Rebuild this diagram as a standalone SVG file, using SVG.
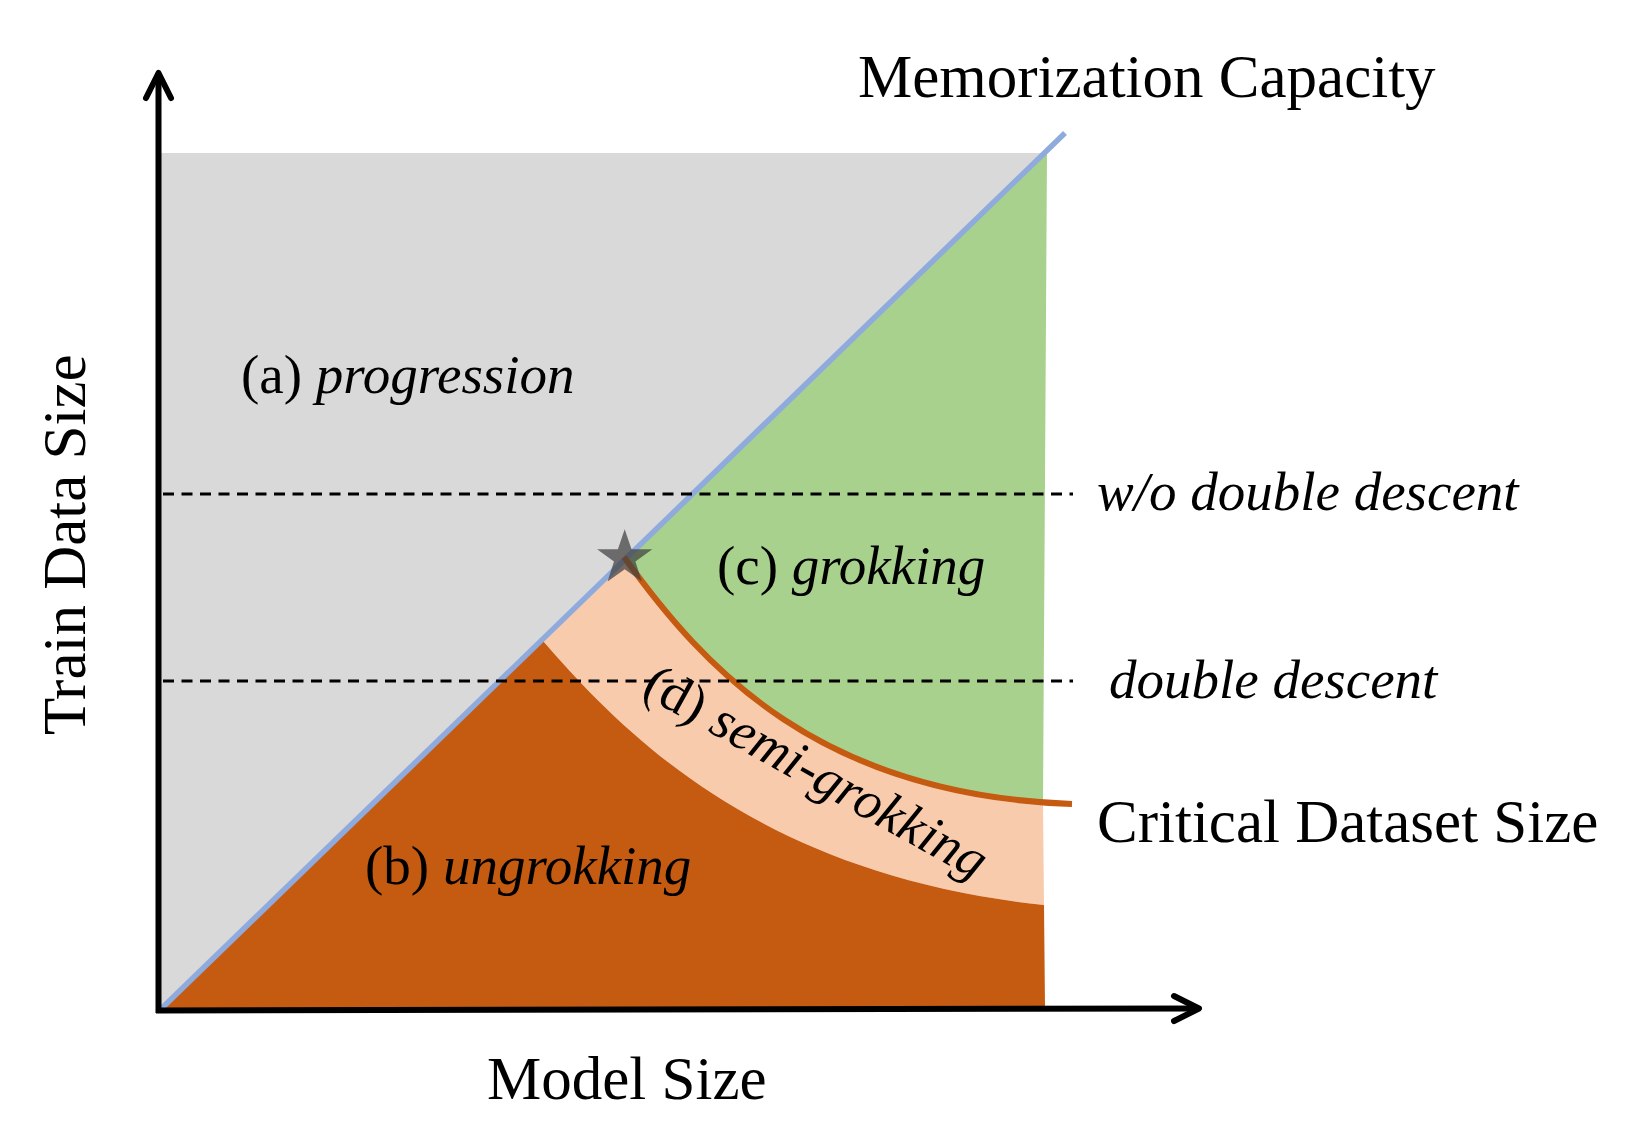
<svg xmlns="http://www.w3.org/2000/svg" width="1637" height="1142" viewBox="0 0 1637 1142">
  <defs>
    <style>
      .lbl { font-family: "Liberation Serif", "Times New Roman", serif; fill: #000; }
      .big { font-size: 61px; }
      .mid { font-size: 55px; }
      .it { font-style: italic; }
      .dash { stroke: #000; stroke-width: 3; stroke-dasharray: 11 7.5; fill: none; }
      .axis { stroke: #000; stroke-width: 6; fill: none; }
    </style>
    <marker id="arrow" markerUnits="userSpaceOnUse" markerWidth="60" markerHeight="60" refX="0" refY="0" orient="auto" overflow="visible">
      <path d="M -25 -12.5 L 0 0 L -25 12.5" fill="none" stroke="#000" stroke-width="6" stroke-linecap="round" stroke-linejoin="round"/>
    </marker>
  </defs>

  <rect width="1637" height="1142" fill="#ffffff"/>

  <g id="region-a-progression">
    <polygon points="161,153 1047,153 162,1008 161,1008" fill="#d9d9d9"/>
  </g>
  <g id="region-c-grokking">
    <path d="M 624 557 L 1047 153 L 1043 802 C 960 800 830 795 800 770 C 760 740 705 670 624 557 Z" fill="#a9d18e"/>
  </g>
  <g id="region-d-semi-grokking">
    <path d="M 543 641 L 624 557 C 705 670 820 795 1072 804 L 1043 803 L 1044 905 C 760 875 625 735 543 641 Z" fill="#f8cbad"/>
  </g>
  <g id="region-b-ungrokking">
    <path d="M 162 1008 L 543 641 C 625 735 760 875 1044 905 L 1045 1008 Z" fill="#c55a11"/>
  </g>

  <g id="connectors">
    <line id="memorization-line" x1="162" y1="1008" x2="1065" y2="133" stroke="#8faadc" stroke-width="5.5"/>
    <path id="critical-curve" d="M 624 557 C 705 670 820 795 1072 804" fill="none" stroke="#c55a11" stroke-width="6"/>
    <line id="dash-wo-dd" class="dash" x1="163" y1="494" x2="1073" y2="494"/>
    <line id="dash-dd" class="dash" x1="163" y1="681" x2="1073" y2="681"/>
    <line id="y-axis" class="axis" x1="158.5" y1="1013" x2="158.5" y2="73" marker-end="url(#arrow)"/>
    <line id="x-axis" class="axis" x1="156" y1="1010.5" x2="1199" y2="1008.5" marker-end="url(#arrow)"/>
  </g>

  <g id="star">
    <polygon points="624.7,529.3 631.5,549.3 652.3,549.3 635.4,561.6 641.8,581.4 624.7,569.2 607.6,581.4 614.0,561.6 597.1,549.3 617.9,549.3" fill="#404040" fill-opacity="0.72"/>
  </g>

  <g id="labels">
    <text class="lbl big" x="858" y="97">Memorization Capacity</text>
    <text class="lbl mid" x="241" y="393">(a) <tspan class="it">progression</tspan></text>
    <text class="lbl mid it" x="1097" y="510">w/o double descent</text>
    <text class="lbl mid" x="717" y="584">(c) <tspan class="it">grokking</tspan></text>
    <text class="lbl mid it" x="1109" y="698">double descent</text>
    <text class="lbl big" x="1097" y="842">Critical Dataset Size</text>
    <text class="lbl mid" x="365" y="884">(b) <tspan class="it">ungrokking</tspan></text>
    <text class="lbl big" x="487" y="1099">Model Size</text>
    <text class="lbl big" transform="translate(85,735) rotate(-90)" x="0" y="0">Train Data Size</text>
    <text class="lbl" font-size="54" transform="translate(640,694) rotate(29)" x="0" y="0">(d) <tspan class="it">semi-grokking</tspan></text>
  </g>
</svg>
